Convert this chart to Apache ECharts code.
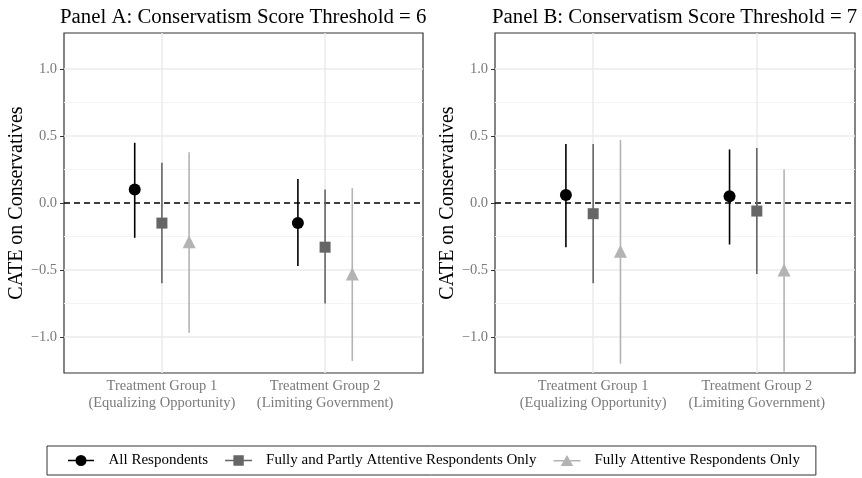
<!DOCTYPE html>
<html lang="en">
<head>
    <meta charset="UTF-8">
    <title>CATE on Conservatives</title>
    <script src="https://cdn.jsdelivr.net/npm/echarts@6/dist/echarts.min.js"></script>
</head>

<style>
    html, body {
        margin: 0;
        padding: 0;
        background: #fff;
    }

    .chart {
        width: 862px;
        height: 478px;
    }
</style>

<body>
<div id="chart" class="chart"></div>

<script>
    // data
    const categories = ['Treatment Group 1\n(Equalizing Opportunity)', 'Treatment Group 2\n(Limiting Government)']
    const panelTitles = ['Panel A: Conservatism Score Threshold = 6', 'Panel B: Conservatism Score Threshold = 7']
    const seriesNames = ['All Respondents', 'Fully and Partly Attentive Respondents Only', 'Fully Attentive Respondents Only']
    const yTicks = [-1, -0.5, 0, 0.5, 1]

    // panel A
    const aAllEst = [0.10, -0.15]
    const aAllLo = [-0.26, -0.47]
    const aAllHi = [0.45, 0.18]
    const aPartEst = [-0.15, -0.33]
    const aPartLo = [-0.60, -0.75]
    const aPartHi = [0.30, 0.10]
    const aFullEst = [-0.29, -0.53]
    const aFullLo = [-0.97, -1.18]
    const aFullHi = [0.38, 0.11]

    // panel B
    const bAllEst = [0.06, 0.05]
    const bAllLo = [-0.33, -0.31]
    const bAllHi = [0.44, 0.40]
    const bPartEst = [-0.08, -0.06]
    const bPartLo = [-0.60, -0.53]
    const bPartHi = [0.44, 0.41]
    const bFullEst = [-0.36, -0.50]
    const bFullLo = [-1.20, -1.26]
    const bFullHi = [0.47, 0.25]

    const panels = [
        [[aAllEst, aAllLo, aAllHi], [aPartEst, aPartLo, aPartHi], [aFullEst, aFullLo, aFullHi]],
        [[bAllEst, bAllLo, bAllHi], [bPartEst, bPartLo, bPartHi], [bFullEst, bFullLo, bFullHi]]
    ]

    const font = '"Liberation Serif", "Times New Roman", serif'
    const colors = ['#000000', '#666666', '#b3b3b3']
    const symbols = ['circle', 'rect', 'triangle']
    const symbolSizes = [12, 11, 13]
    const dodge = [-1 / 6, 0, 1 / 6]
    const grids = [
        {left: 64, right: 439, top: 33, bottom: 105},
        {left: 495, right: 7, top: 33, bottom: 105}
    ]
    const titleLeft = [55, 487]

    // legend keys: line through marker (segments kept apart so the marker stays filled)
    const icons = [
        'path://M0,6.2 H7.6 V7.8 H0 Z M18.4,6.2 H26 V7.8 H18.4 Z M7.5,7 A5.5,5.5 0 1,1 18.5,7 A5.5,5.5 0 1,1 7.5,7 Z',
        'path://M0,6.2 H8 V7.8 H0 Z M18,6.2 H26 V7.8 H18 Z M8,2 H18 V12 H8 Z',
        'path://M0,6.2 H9.8 V7.8 H0 Z M16.2,6.2 H26 V7.8 H16.2 Z M13,1.5 L19,12 L7,12 Z'
    ]

    function fmtY(v) {
        return v < 0 ? '\u2212' + Math.abs(v).toFixed(1) : v.toFixed(1)
    }

    function errorBar(params, api) {
        let x = api.value(0)
        let p1 = api.coord([x, api.value(1)])
        let p2 = api.coord([x, api.value(2)])
        return {
            type: 'line',
            shape: {x1: p1[0], y1: p1[1], x2: p2[0], y2: p2[1]},
            style: {stroke: api.visual('color'), lineWidth: 1.6}
        }
    }

    let option = {
        backgroundColor: '#fff',
        animation: false,
        title: panelTitles.map(function (t, i) {
            return {
                text: t,
                left: titleLeft[i],
                top: 2,
                textStyle: {fontFamily: font, fontSize: 20.8, fontWeight: 'normal', color: '#000'}
            }
        }),
        legend: {
            data: seriesNames.map(function (n, i) {
                return {name: n, icon: icons[i]}
            }),
            left: 47,
            top: 446,
            itemWidth: 27,
            itemHeight: 11,
            itemGap: 17,
            padding: [7, 16, 7, 21],
            borderColor: '#333',
            borderWidth: 1,
            textStyle: {fontFamily: font, fontSize: 15, color: '#000', padding: [0, 0, 0, 9]}
        },
        grid: grids.map(function (g) {
            return Object.assign({show: true, borderColor: '#333', borderWidth: 1.2, backgroundColor: '#fff'}, g)
        }),
        xAxis: [0, 1].map(function (i) {
            return {
                type: 'value',
                gridIndex: i,
                min: 0.4,
                max: 2.6,
                axisLine: {show: false},
                splitLine: {show: false},
                axisTick: {show: true, length: 4, lineStyle: {color: '#333'}, customValues: [1, 2]},
                axisLabel: {
                    customValues: [1, 2],
                    formatter: function (v) {
                        return categories[Math.round(v) - 1]
                    },
                    fontFamily: font, fontSize: 14.5, color: '#7a7a7a', lineHeight: 17, margin: 5
                }
            }
        }),
        yAxis: [0, 1].map(function (i) {
            return {
                type: 'value',
                gridIndex: i,
                min: -1.27,
                max: 1.27,
                name: 'CATE on Conservatives',
                nameLocation: 'middle',
                nameGap: 37,
                nameTextStyle: {fontFamily: font, fontSize: 20, color: '#000'},
                axisLine: {show: false},
                splitLine: {show: false},
                axisTick: {show: true, length: 4, lineStyle: {color: '#333'}, customValues: yTicks},
                axisLabel: {
                    customValues: yTicks,
                    formatter: fmtY,
                    fontFamily: font, fontSize: 14.5, color: '#7a7a7a', margin: 7
                }
            }
        }),
        series: []
    }

    // background grid lines and zero reference line
    for (let p = 0; p < 2; p++) {
        option.series.push({
            type: 'scatter',
            xAxisIndex: p,
            yAxisIndex: p,
            data: [],
            z: 1,
            silent: true,
            markLine: {
                silent: true,
                z: 1,
                symbol: 'none',
                label: {show: false},
                data: [
                    {yAxis: -0.75, lineStyle: {color: '#f4f4f4', width: 1, type: 'solid'}},
                    {yAxis: -0.25, lineStyle: {color: '#f4f4f4', width: 1, type: 'solid'}},
                    {yAxis: 0.25, lineStyle: {color: '#f4f4f4', width: 1, type: 'solid'}},
                    {yAxis: 0.75, lineStyle: {color: '#f4f4f4', width: 1, type: 'solid'}},
                    {yAxis: -1, lineStyle: {color: '#ebebeb', width: 1.5, type: 'solid'}},
                    {yAxis: -0.5, lineStyle: {color: '#ebebeb', width: 1.5, type: 'solid'}},
                    {yAxis: 0.5, lineStyle: {color: '#ebebeb', width: 1.5, type: 'solid'}},
                    {yAxis: 1, lineStyle: {color: '#ebebeb', width: 1.5, type: 'solid'}},
                    {xAxis: 1, lineStyle: {color: '#ebebeb', width: 1.5, type: 'solid'}},
                    {xAxis: 2, lineStyle: {color: '#ebebeb', width: 1.5, type: 'solid'}},
                    {yAxis: 0, lineStyle: {color: '#000', width: 1.5, type: [6, 4]}}
                ]
            }
        })
    }

    for (let p = 0; p < 2; p++) {
        for (let s = 0; s < 3; s++) {
            let est = panels[p][s][0], lo = panels[p][s][1], hi = panels[p][s][2]
            let bars = [], pts = []
            for (let c = 0; c < categories.length; c++) {
                let x = c + 1 + dodge[s]
                bars.push([x, lo[c], hi[c]])
                pts.push([x, est[c]])
            }
            option.series.push({
                type: 'custom',
                name: 'bar-' + s,
                xAxisIndex: p,
                yAxisIndex: p,
                renderItem: errorBar,
                itemStyle: {color: colors[s]},
                data: bars,
                z: 3,
                clip: true
            })
            option.series.push({
                type: 'scatter',
                name: seriesNames[s],
                xAxisIndex: p,
                yAxisIndex: p,
                symbol: symbols[s],
                symbolSize: symbolSizes[s],
                itemStyle: {color: colors[s], opacity: 1},
                data: pts,
                z: 4
            })
        }
    }

    let chart = echarts.init(document.getElementById('chart'))
    chart.setOption(option)
</script>
</body>
</html>
